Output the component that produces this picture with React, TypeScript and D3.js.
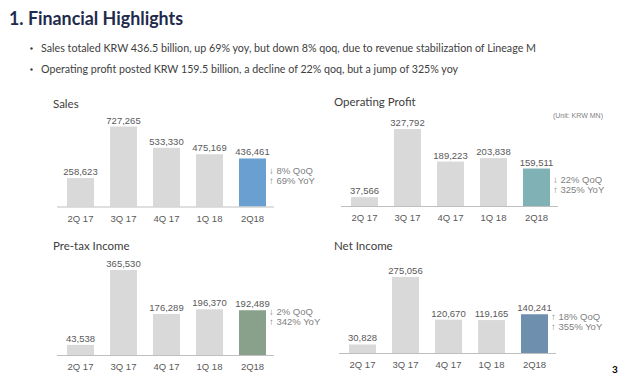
import React from 'react';
import * as d3 from 'd3';

const categories = ['2Q 17', '3Q 17', '4Q 17', '1Q 18', '2Q18'];
const sales = [258623, 727265, 533330, 475169, 436461];
const operatingProfit = [37566, 327792, 189223, 203838, 159511];
const pretaxIncome = [43538, 365530, 176289, 196370, 192489];
const netIncome = [30828, 275056, 120670, 119165, 140241];
const salesNotes = ['↓ 8% QoQ', '↑ 69% YoY'];
const opNotes = ['↓ 22% QoQ', '↑ 325% YoY'];
const pretaxNotes = ['↓ 2% QoQ', '↑ 342% YoY'];
const netNotes = ['↑ 18% QoQ', '↑ 355% YoY'];
const bullets = [
  'Sales totaled KRW 436.5 billion, up 69% yoy, but down 8% qoq, due to revenue stabilization of Lineage M',
  'Operating profit posted KRW 159.5 billion, a decline of 22% qoq, but a jump of 325% yoy',
];

const fmt = d3.format(',');
const labelFont = '"Liberation Sans Narrow", "Liberation Sans", sans-serif';
const uiFont = 'Lato, "Noto Sans", sans-serif';

type PanelProps = {
  title: string;
  values: number[];
  notes: string[];
  color: string;
  x0: number;
  base: number;
  maxH: number;
  titleX: number;
  titleY: number;
  noteY: number;
};

const Panel = ({ title, values, notes, color, x0, base, maxH, titleX, titleY, noteY }: PanelProps) => {
  const x = d3.scaleBand<string>()
    .domain(categories)
    .range([x0, x0 + 215])
    .paddingInner(0.372)
    .paddingOuter(0.186);
  const y = d3.scaleLinear()
    .domain([0, d3.max(values) as number])
    .range([base, base - maxH]);
  const last = categories[categories.length - 1];

  return (
    <g>
      <text x={titleX} y={titleY} fontFamily={uiFont} fontSize={11.5} fill="#404040">{title}</text>
      {values.map((v, i) => (
        <g key={categories[i]}>
          <rect
            x={x(categories[i])}
            y={y(v)}
            width={x.bandwidth()}
            height={base - y(v)}
            fill={i === values.length - 1 ? color : '#d9d9d9'}
          />
          <text
            x={(x(categories[i]) as number) + x.bandwidth() / 2}
            y={y(v) - 3}
            textAnchor="middle"
            fontFamily={labelFont}
            fontSize={9.5}
            fill="#595959"
          >
            {fmt(v)}
          </text>
          <text
            x={(x(categories[i]) as number) + x.bandwidth() / 2}
            y={base + 15}
            textAnchor="middle"
            fontFamily={labelFont}
            fontSize={9.5}
            fill="#595959"
          >
            {categories[i]}
          </text>
        </g>
      ))}
      <line x1={x0 - 2} x2={x0 + 215} y1={base + 0.5} y2={base + 0.5} stroke="#bfbfbf" strokeWidth={1} />
      {notes.map((n, i) => (
        <text
          key={n}
          x={(x(last) as number) + x.bandwidth() + 3}
          y={noteY + i * 10}
          fontFamily={labelFont}
          fontSize={9.5}
          fill="#7f7f7f"
        >
          {n}
        </text>
      ))}
    </g>
  );
};

const App = () => {
  return (
    <svg width={640} height={386} style={{ position: 'absolute', left: 0, top: 0, background: '#fff' }}>
      <text x={9} y={25} fontFamily={uiFont} fontWeight={700} fontSize={19} fill="#1f2b4d" textLength={174} lengthAdjust="spacingAndGlyphs">
        1. Financial Highlights
      </text>
      {bullets.map((b, i) => (
        <g key={i}>
          <circle cx={31.5} cy={48.5 + i * 21} r={1.2} fill="#404040" />
          <text x={41} y={52 + i * 21} fontFamily={uiFont} fontSize={11} fill="#404040"
            textLength={i === 0 ? 495 : 417} lengthAdjust="spacingAndGlyphs">{b}</text>
        </g>
      ))}
      <Panel title="Sales" values={sales} notes={salesNotes} color="#6a9fd2"
        x0={59} base={206.5} maxH={80} titleX={53} titleY={108} noteY={174} />
      <Panel title="Operating Profit" values={operatingProfit} notes={opNotes} color="#7fb1b5"
        x0={343} base={206} maxH={77} titleX={334} titleY={106} noteY={183} />
      <Panel title="Pre-tax Income" values={pretaxIncome} notes={pretaxNotes} color="#89a08b"
        x0={59} base={355} maxH={85} titleX={53} titleY={250} noteY={315} />
      <Panel title="Net Income" values={netIncome} notes={netNotes} color="#6f8fae"
        x0={341} base={353} maxH={76} titleX={334} titleY={250} noteY={320} />
      <text x={603} y={118} textAnchor="end" fontFamily={labelFont} fontSize={7} fill="#7f7f7f">(Unit: KRW MN)</text>
      <text x={612} y={373} fontFamily={uiFont} fontWeight={700} fontSize={10} fill="#000">3</text>
    </svg>
  );
};

export default App;
